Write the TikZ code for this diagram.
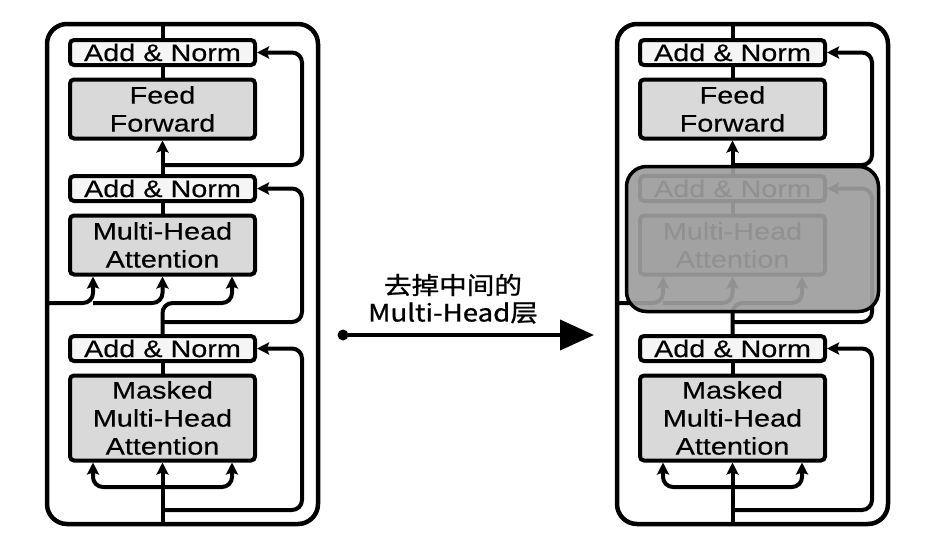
\documentclass[tikz,border=0pt]{standalone}
\usepackage{fontspec}
\usetikzlibrary{arrows.meta}
\newfontfamily\boxfont[FakeStretch=1.2,FakeBold=0.4]{Liberation Sans}
\newfontfamily\cjkfont[FakeStretch=1.15,FakeBold=1]{Noto Sans CJK SC}
\tikzset{
  blk/.style={draw=black, line width=4pt, rounded corners=4pt, fill=black!15,
    minimum width=185pt, align=center, inner sep=0pt,
    font=\boxfont\fontsize{24}{28}\selectfont},
  normbox/.style={blk, fill=black!4, minimum height=25pt},
  conn/.style={line width=4pt, rounded corners=10pt},
  arr/.style={-{Stealth[length=12pt,width=12pt,inset=2pt]}},
  dualarr/.style={{Stealth[length=12pt,width=12pt,inset=2pt]}-{Stealth[length=12pt,width=12pt,inset=2pt]}},
  outerbox/.style={draw, line width=4.5pt, rounded corners=20pt,
    minimum width=271pt, minimum height=500pt, inner sep=0pt},
}
\newcommand\decoderstack[2]{%
\begin{scope}[xshift=#2pt]
  \node[outerbox] (#1outer) at (182.5,274) {};
  \node[normbox] (#1an1) at (162.5,52.5) {Add \& Norm};
  \node[blk, minimum height=59pt] (#1ff) at (162.5,109) {Feed\\Forward};
  \node[normbox] (#1an2) at (162.5,188.5) {Add \& Norm};
  \node[blk, minimum height=59pt] (#1mha) at (162.5,245) {Multi-Head\\Attention};
  \node[normbox] (#1an3) at (162.5,348.5) {Add \& Norm};
  \node[blk, minimum height=85pt] (#1mmha) at (162.5,418) {Masked\\Multi-Head\\Attention};
  \coordinate (#1top) at (162.5,24);
  \coordinate (#1bot) at (162.5,524);
  \coordinate (#1j1) at (162.5,165);
  \coordinate (#1j2) at (162.5,322);
  \coordinate (#1j3) at (162.5,510);
  \coordinate (#1enc) at (47,303);
  \draw[conn] (#1top) -- (#1an1.north);
  \draw[conn] (#1an1.south) -- (#1ff.north);
  \draw[conn,arr] (#1an2.north) -- (#1ff.south);
  \draw[conn,arr] (#1j1) -- (302,165) -- (302,52.5) -- (#1an1.east);
  \draw[conn] (#1an2.south) -- (#1mha.north);
  \draw[conn,arr] (#1j2) -- (302,322) -- (302,188.5) -- (#1an2.east);
  \draw[conn,arr] (#1an3.north) -- (162.5,303) -- (232,303) -- ([xshift=69.5pt]#1mha.south);
  \draw[conn,arr] (#1enc) -- (93,303) -- ([xshift=-69.5pt]#1mha.south);
  \draw[conn,arr] (93,303) -- (162.5,303) -- (#1mha.south);
  \draw[conn] (#1an3.south) -- (#1mmha.north);
  \draw[conn,arr] (#1j3) -- (302,510) -- (302,348.5) -- (#1an3.east);
  \draw[conn,arr] (#1bot) -- (#1mmha.south);
  \draw[conn,dualarr] ([xshift=-69.5pt]#1mmha.south) -- (93,487) -- (232,487) -- ([xshift=69.5pt]#1mmha.south);
\end{scope}}
\begin{document}
\begin{tikzpicture}[x=1pt,y=-1pt]
  \fill[white] (0,0) rectangle (942,547);
  \useasboundingbox (0,0) rectangle (942,547);
  \decoderstack{L}{0}
  \decoderstack{R}{570}
  % overlay hiding the middle Multi-Head layer
  \node[draw=black, line width=3.5pt, fill=black!38, fill opacity=0.92,
    rounded corners=20pt, minimum width=252pt, minimum height=145pt, inner sep=0pt]
    (mask) at (752.5,239) {};
  % middle arrow and label
  \node[circle, fill=black, inner sep=0pt, minimum size=11pt] (dot) at (343,335) {};
  \coordinate (tip) at (594,335);
  \draw[line width=4pt, -{Triangle[length=34pt,width=30pt]}] (dot.center) -- (tip);
  \node[font=\cjkfont\fontsize{24}{28}\selectfont, inner sep=0pt] (lbl1) at (453,285) {去掉中间的};
  \node[font=\cjkfont\fontsize{24}{28}\selectfont, inner sep=0pt] (lbl2) at (453,313) {Multi-Head层};
\end{tikzpicture}
\end{document}
